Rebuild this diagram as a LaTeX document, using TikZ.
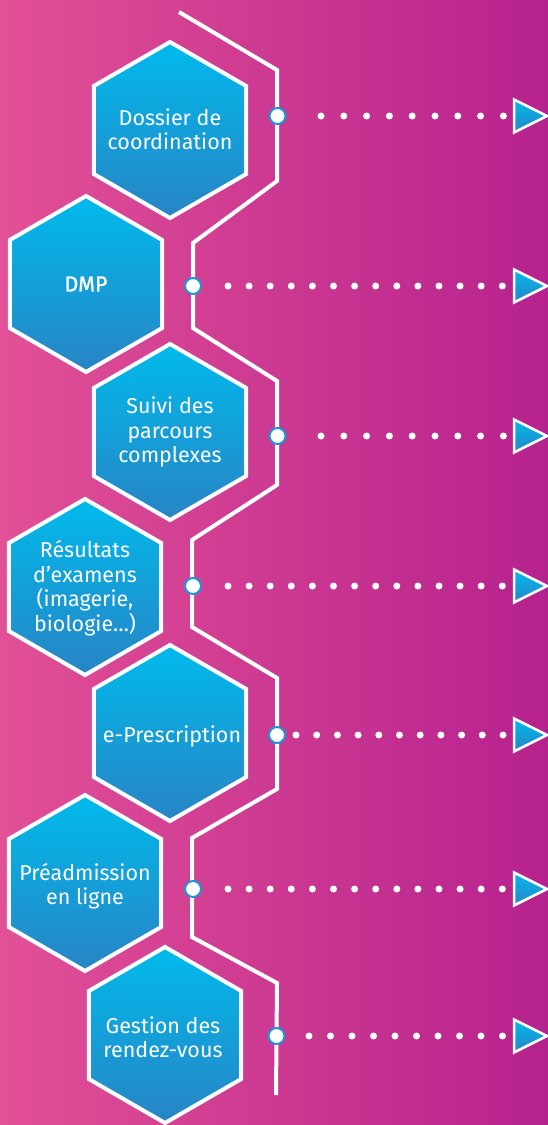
\documentclass[tikz,border=0pt]{standalone}
\usepackage{fontspec}
\setmainfont{Fira Sans}
\usetikzlibrary{shapes.geometric}
\definecolor{bgL}{RGB}{226,80,150}
\definecolor{bgR}{RGB}{182,34,141}
\definecolor{hexTop}{RGB}{0,186,236}
\definecolor{hexBot}{RGB}{40,132,196}
\definecolor{ringblue}{RGB}{28,150,214}
\begin{document}
\begin{tikzpicture}[x=1pt,y=-1pt,
  hexbox/.style={regular polygon, regular polygon sides=6, shape border rotate=30,
    minimum size=176pt, inner sep=0pt, draw=white, line width=4pt,
    top color=hexTop, bottom color=hexBot},
  hextext/.style={text=white, align=center, font=\fontsize{21.5}{24.5}\selectfont},
  joint/.style={circle, minimum size=16pt, inner sep=0pt, fill=white, draw=ringblue, line width=2pt},
  dotrow/.style={white, line width=7pt, line cap=round, dash pattern=on 0pt off #1},
  pathline/.style={white, line width=4pt, line join=miter},
  tri/.style={draw=white, line width=2.5pt, line join=miter, top color=hexTop, bottom color=hexBot}
]
\fill[left color=bgL, right color=bgR] (0,0) rectangle (548,1125);
\useasboundingbox (0,0) rectangle (548,1125);

% zigzag line
\draw[pathline] (179,12) -- (277,70) -- (277,181) -- (193,243) -- (193,328) -- (277,381)
  -- (277,485) -- (192,540) -- (192,627) -- (277,678) -- (277,789) -- (192,838)
  -- (192,937) -- (277,983) -- (276,1095);

% hexagons
\node[hexbox] (h1) at (170,130) {};
\node[hexbox] (h2) at (86,284) {};
\node[hexbox] (h3) at (170,432) {};
\node[hexbox] (h4) at (85,587) {};
\node[hexbox] (h5) at (170,733) {};
\node[hexbox] (h6) at (85,883) {};
\node[hexbox] (h7) at (165,1035) {};

\node[hextext] (x1) at (170,129) {Dossier de\\coordination};
\node[hextext, font=\fontsize{21.5}{24.5}\selectfont\addfontfeatures{FakeBold=1.2}] (x2) at (86,284) {DMP};
\node[hextext] (x3) at (170,432) {Suivi des\\parcours\\complexes};
\node[hextext] (x4) at (85,588) {Résultats\\d’examens\\(imagerie,\\biologie…)};
\node[hextext] (x5) at (172,736) {e-Prescription};
\node[hextext] (x6) at (85,886) {Préadmission\\en ligne};
\node[hextext] (x7) at (163,1037) {Gestion des\\rendez-vous};

% joints
\node[joint] (c1) at (277.5,116) {};
\node[joint] (c2) at (193,286) {};
\node[joint] (c3) at (277.5,436) {};
\node[joint] (c4) at (193,586) {};
\node[joint] (c5) at (277,735) {};
\node[joint] (c6) at (193,889) {};
\node[joint] (c7) at (276.5,1036) {};

% arrow heads
\foreach \i/\y in {1/116,2/286,3/436,4/586,5/735,6/889,7/1036}{
  \draw[tri] (514,\y-16.5) -- (547,\y) -- (514,\y+16.5) -- cycle;
  \coordinate (t\i) at (514,\y);
}

% dotted connectors
\draw[dotrow=22.8pt] ([xshift=43.5pt]c1.center) -- (t1);
\draw[dotrow=21.1pt] ([xshift=35pt]c2.center) -- (t2);
\draw[dotrow=22.8pt] ([xshift=43.5pt]c3.center) -- (t3);
\draw[dotrow=21.1pt] ([xshift=35pt]c4.center) -- (t4);
\draw[dotrow=20.7pt] ([xshift=19pt]c5.center) -- (t5);
\draw[dotrow=21.1pt] ([xshift=35pt]c6.center) -- (t6);
\draw[dotrow=21.5pt] ([xshift=32.5pt]c7.center) -- (t7);
\end{tikzpicture}
\end{document}
